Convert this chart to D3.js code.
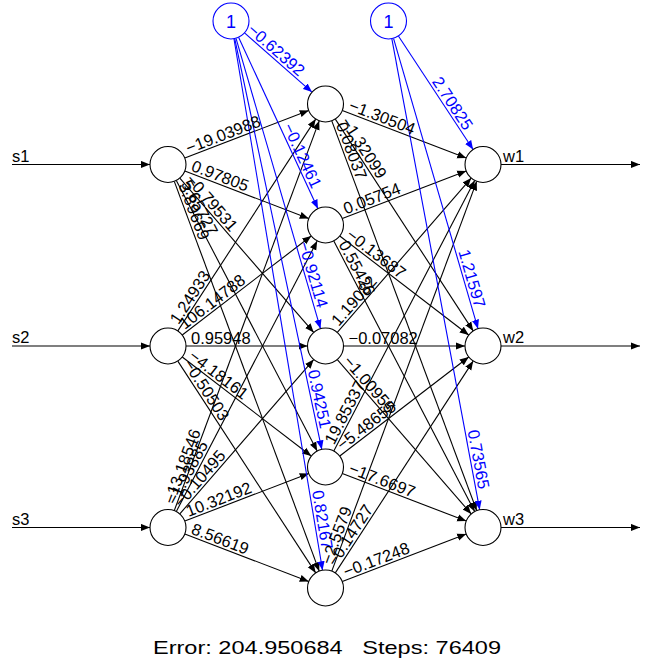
<!DOCTYPE html>
<html><head><meta charset="utf-8">
<script src="https://cdn.jsdelivr.net/npm/d3@7"></script>
<style>body{margin:0;background:#fff} text{font-family:"Liberation Sans",Arial,Helvetica,sans-serif;white-space:pre}</style>
</head><body><svg id="c" width="652" height="667"></svg>
<script>
// ---- data ----
const inputs = ["s1","s2","s3"];
const hiddenCount = 5;
const outputs = ["w1","w2","w3"];
// input -> hidden weights (rows: s1..s3, cols: hidden 1..5)
const wInputHidden = [
  [-19.03988, 0.97805, -0.79531, 5.65727, 3.89669],
  [1.24933, 106.14788, 0.95948, -4.18161, -0.50503],
  [-13.18546, -1.93885, -0.10495, 10.32192, 8.56619]
];
const biasHidden = [-0.62392, -0.12461, -0.92114, 0.94251, 0.82167];
// hidden -> output weights (rows: hidden 1..5, cols: w1..w3)
const wHiddenOutput = [
  [-1.30504, -1.32099, 0.08037],
  [0.05754, -0.13687, 0.55426],
  [1.19082, -0.07082, -1.00955],
  [19.85337, -5.48655, -17.6697],
  [-2.5579, -0.14727, -0.17248]
];
const biasOutput = [2.70825, 1.21597, 0.73565];
const errorValue = "204.950684";
const stepsValue = "76409";

// ---- layout ----
const svg = d3.select("#c");
const R = 18;
const xLayer = d3.scaleLinear().domain([0, 2]).range([168, 483]);
const yFrac = d3.scaleLinear().domain([0, 1]).range([-17, 709]);
const yNode = (i, n) => yFrac((i + 1) / (n + 1));
const biasY = 21;
const interceptFactor = 0.4;
const fmt = v => String(v).replace("-", "\u2212");

const defs = svg.append("defs");
[["arrBlack","#000"],["arrBlue","#0000ff"]].forEach(([id,c]) => {
  defs.append("marker").attr("id", id).attr("markerUnits","userSpaceOnUse")
    .attr("viewBox","0 0 9 8").attr("markerWidth",9).attr("markerHeight",8)
    .attr("refX",9).attr("refY",4).attr("orient","auto")
    .append("path").attr("d","M0,0.4L9,4L0,7.6Z").attr("fill", c);
});

const nodes = [];
inputs.forEach((n,i)=>nodes.push({x:xLayer(0), y:yNode(i,inputs.length)}));
for (let j=0;j<hiddenCount;j++) nodes.push({x:xLayer(1), y:yNode(j,hiddenCount)});
outputs.forEach((n,k)=>nodes.push({x:xLayer(2), y:yNode(k,outputs.length)}));
const b1 = {x:xLayer(0 + interceptFactor), y:biasY};
const b2 = {x:xLayer(1 + interceptFactor), y:biasY};

const edges = [];
inputs.forEach((n,i)=>{
  for (let j=0;j<hiddenCount;j++) edges.push({s:{x:xLayer(0),y:yNode(i,inputs.length)}, t:{x:xLayer(1),y:yNode(j,hiddenCount)}, w:wInputHidden[i][j], bias:false});
});
for (let j=0;j<hiddenCount;j++) edges.push({s:b1, t:{x:xLayer(1),y:yNode(j,hiddenCount)}, w:biasHidden[j], bias:true});
for (let j=0;j<hiddenCount;j++) outputs.forEach((n,k)=>{
  edges.push({s:{x:xLayer(1),y:yNode(j,hiddenCount)}, t:{x:xLayer(2),y:yNode(k,outputs.length)}, w:wHiddenOutput[j][k], bias:false});
});
outputs.forEach((n,k)=>edges.push({s:b2, t:{x:xLayer(2),y:yNode(k,outputs.length)}, w:biasOutput[k], bias:true}));

edges.forEach(e=>{
  const dx=e.t.x-e.s.x, dy=e.t.y-e.s.y, L=Math.hypot(dx,dy);
  e.ux=dx/L; e.uy=dy/L; e.L=L; e.ang=Math.atan2(dy,dx)*180/Math.PI;
});

const g = svg.append("g");
g.selectAll("line.e").data(edges).join("line")
  .attr("x1",e=>e.s.x+e.ux*R).attr("y1",e=>e.s.y+e.uy*R)
  .attr("x2",e=>e.t.x-e.ux*R).attr("y2",e=>e.t.y-e.uy*R)
  .attr("stroke",e=>e.bias?"#0000ff":"#000").attr("stroke-width",1.1)
  .attr("marker-end",e=>e.bias?"url(#arrBlue)":"url(#arrBlack)");

inputs.forEach((n,i)=>{
  const y=yNode(i,inputs.length);
  g.append("line").attr("x1",12).attr("y1",y).attr("x2",xLayer(0)-R).attr("y2",y)
    .attr("stroke","#000").attr("stroke-width",1.1).attr("marker-end","url(#arrBlack)");
  g.append("text").attr("x",12).attr("y",y-3).attr("font-size",16.5).text(n);
});
outputs.forEach((n,k)=>{
  const y=yNode(k,outputs.length);
  g.append("line").attr("x1",xLayer(2)+R).attr("y1",y).attr("x2",640).attr("y2",y)
    .attr("stroke","#000").attr("stroke-width",1.1).attr("marker-end","url(#arrBlack)");
  g.append("text").attr("x",xLayer(2)+20).attr("y",y-3).attr("font-size",16.5).text(n);
});

g.selectAll("circle.n").data(nodes).join("circle")
  .attr("cx",d=>d.x).attr("cy",d=>d.y).attr("r",R)
  .attr("fill","#fff").attr("stroke","#000").attr("stroke-width",1.1);
[b1,b2].forEach(b=>{
  g.append("circle").attr("cx",b.x).attr("cy",b.y).attr("r",R).attr("fill","#fff").attr("stroke","#0000ff").attr("stroke-width",1.1);
  g.append("text").attr("x",b.x).attr("y",b.y+6.5).attr("text-anchor","middle").attr("font-size",18).attr("fill","#0000ff").text("1");
});

g.selectAll("text.w").data(edges).join("text")
  .attr("transform",e=>{
    if(e.bias){ const px=e.t.x-e.ux*38, py=e.t.y-e.uy*38; return `translate(${px},${py}) rotate(${e.ang})`; }
    const px=e.s.x+e.ux*23, py=e.s.y+e.uy*23; return `translate(${px},${py}) rotate(${e.ang})`;
  })
  .attr("x",0).attr("y",-2.5)
  .attr("text-anchor",e=>e.bias?"end":"start")
  .attr("font-size",16.5)
  .attr("fill",e=>e.bias?"#0000ff":"#000")
  .text(e=>fmt(e.w));

svg.append("text").attr("x",327).attr("y",654).attr("text-anchor","middle")
  .attr("font-size",18.5).attr("textLength",348).attr("lengthAdjust","spacingAndGlyphs")
  .text(`Error: ${errorValue}   Steps: ${stepsValue}`);
</script></body></html>
